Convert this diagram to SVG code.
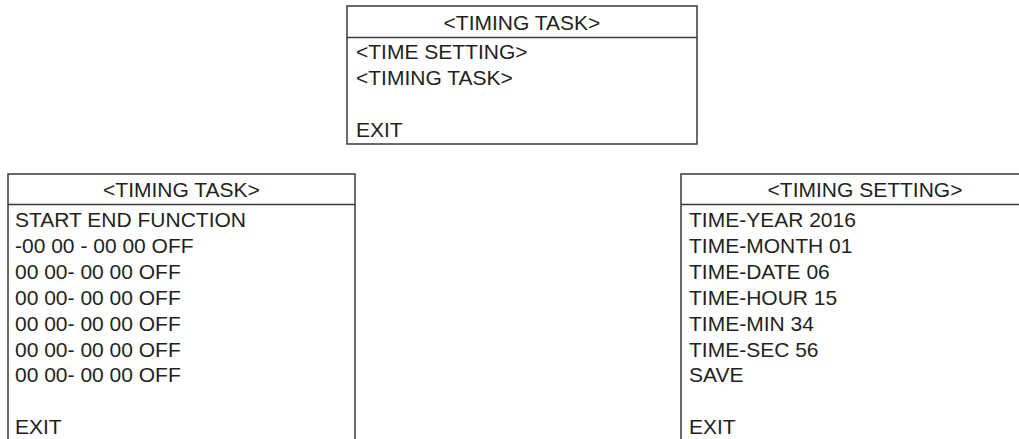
<svg xmlns="http://www.w3.org/2000/svg" width="1019" height="439" viewBox="0 0 1019 439">
<style>
.box{fill:#fff;stroke:#3a3a3a;stroke-width:1.5}
.t{font-family:"Liberation Sans",Arial,sans-serif;font-size:21px;fill:#231f20}
.c{text-anchor:middle}
</style>
<rect width="1019" height="439" fill="#fff"/>
<g id="menu-top">
<rect class="box" x="347" y="6" width="350" height="138"/>
<line class="box" x1="347" y1="37.5" x2="697" y2="37.5"/>
<text class="t c" x="522" y="29.5">&lt;TIMING TASK&gt;</text>
<text class="t" x="356" y="59">&lt;TIME SETTING&gt;</text>
<text class="t" x="356" y="84.9">&lt;TIMING TASK&gt;</text>
<text class="t" x="356" y="136.7">EXIT</text>
</g>
<g id="menu-timing-task">
<rect class="box" x="8" y="174" width="347" height="280"/>
<line class="box" x1="8" y1="204.5" x2="355" y2="204.5"/>
<text class="t c" x="181.5" y="196.5">&lt;TIMING TASK&gt;</text>
<text class="t" x="15" y="227">START END FUNCTION</text>
<text class="t" x="15" y="252.9">-00 00 - 00 00 OFF</text>
<text class="t" x="15" y="278.8">00 00- 00 00 OFF</text>
<text class="t" x="15" y="304.7">00 00- 00 00 OFF</text>
<text class="t" x="15" y="330.6">00 00- 00 00 OFF</text>
<text class="t" x="15" y="356.5">00 00- 00 00 OFF</text>
<text class="t" x="15" y="382.4">00 00- 00 00 OFF</text>
<text class="t" x="15" y="434.2">EXIT</text>
</g>
<g id="menu-timing-setting">
<rect class="box" x="681" y="174" width="368" height="280"/>
<line class="box" x1="681" y1="204.5" x2="1049" y2="204.5"/>
<text class="t c" x="865" y="196.5">&lt;TIMING SETTING&gt;</text>
<text class="t" x="689" y="227">TIME-YEAR 2016</text>
<text class="t" x="689" y="252.9">TIME-MONTH 01</text>
<text class="t" x="689" y="278.8">TIME-DATE 06</text>
<text class="t" x="689" y="304.7">TIME-HOUR 15</text>
<text class="t" x="689" y="330.6">TIME-MIN 34</text>
<text class="t" x="689" y="356.5">TIME-SEC 56</text>
<text class="t" x="689" y="382.4">SAVE</text>
<text class="t" x="689" y="434.2">EXIT</text>
</g>
<g id="connectors"></g>
</svg>
